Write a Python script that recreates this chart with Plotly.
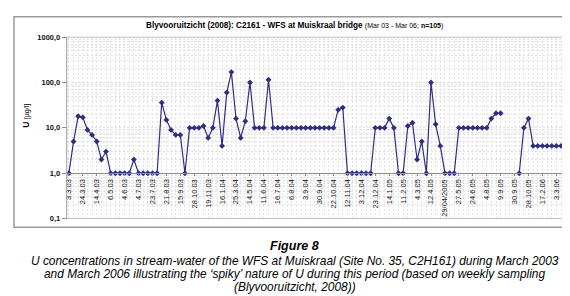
import plotly.graph_objects as go

# ---- data ----
u_values = [
    1, 5, 18, 17, 9, 7, 5, 2, 3, 1,
    1, 1, 1, 1, 2, 1, 1, 1, 1, 1,
    36, 15, 9, 7, 7, 1, 10, 10, 10, 11,
    6, 10, 40, 4, 60, 170, 16, 6, 14, 100,
    10, 10, 10, 115, 10, 10, 10, 10, 10, 10,
    10, 10, 10, 10, 10, 10, 10, 10, 25, 28,
    1, 1, 1, 1, 1, 1, 10, 10, 10, 16,
    10, 1, 1, 11, 13, 2, 5, 1, 100, 12,
    4, 1, 1, 1, 10, 10, 10, 10, 10, 10,
    10, 16, 21, 21, None, None, None, 1, 10, 16,
    4, 4, 4, 4, 4, 4, 4, 4,
]
tick_labels = [
    "3.3.03", "24.3.03", "14.4.03", "6.5.03", "4.6.03", "4.7.03", "23.7.03",
    "21.8.03", "15.9.03", "28.10.03", "19.11.03", "16.1.04", "25.3.04",
    "14.5.04", "11.6.04", "16.7.04", "6.8.04", "3.9.04", "30.9.04",
    "22.10.04", "12.11.04", "3.12.04", "23.12.04", "14.1.05", "11.2.05",
    "4.3.05", "12.4.05", "29/04/2005", "27.5.05", "24.6.05", "4.8.05",
    "9.9.05", "30.9.05", "28.10.05", "17.2.06", "3.3.06",
]
label_step = 3
y_tickvals = [0.1, 1, 10, 100, 1000]
y_ticktext = ["0,1", "1,0", "10,0", "100,0", "1000,0"]

W, H = 570, 296
def px(x):
    return x / W
def py(y):
    return 1 - y / H

n = len(u_values)
xs = list(range(n))

# plot area in pixels
L, R, T, B = 57, 559, 26, 213
ydom = [py(B), py(T)]
y1_paper = ydom[0] + 0.25 * (ydom[1] - ydom[0])  # position of value 1 on log axis [-1, 3]

navy = "#2E2E82"
gridc = "#E2E2E2"
axc = "#8C8C8C"
font = "Liberation Sans, Arial, sans-serif"

fig = go.Figure()
fig.add_trace(go.Scatter(
    x=xs, y=u_values, mode="lines+markers",
    line=dict(color=navy, width=1.2),
    marker=dict(symbol="diamond", size=4.5, color=navy),
    connectgaps=False, showlegend=False, hoverinfo="skip",
))

minor_y = [m * 10 ** e for e in range(-1, 3) for m in range(2, 10)]

cap_size = 11.9

fig.update_layout(
    width=W, height=H,
    margin=dict(l=0, r=0, t=0, b=0),
    paper_bgcolor="white", plot_bgcolor="white",
    font=dict(family=font, color="black"),
    xaxis=dict(
        domain=[px(L), px(R)], anchor="free", position=y1_paper,
        range=[-0.45, n - 1 + 0.3],
        tickmode="array",
        tickvals=[i * label_step for i in range(len(tick_labels))],
        ticktext=tick_labels, tickangle=-90,
        tickfont=dict(size=7.5, family=font, color="#111"),
        showline=True, linecolor=axc, linewidth=1,
        ticks="outside", ticklen=2, tickcolor=axc,
        showgrid=True, gridcolor=gridc, griddash="2px,2px", gridwidth=1,
        minor=dict(tickmode="array", tickvals=xs, showgrid=True,
                   gridcolor=gridc, griddash="2px,2px", gridwidth=1, ticks=""),
        zeroline=False, fixedrange=True,
    ),
    yaxis=dict(
        domain=ydom, type="log", range=[-1, 3],
        tickmode="array", tickvals=y_tickvals, ticktext=y_ticktext,
        tickfont=dict(size=7.5, family=font, color="#111", weight="bold"),
        showline=True, linecolor=axc, linewidth=1,
        ticks="outside", ticklen=4, tickcolor=axc,
        showgrid=True, gridcolor=gridc, griddash="2px,2px", gridwidth=1,
        minor=dict(tickmode="array", tickvals=minor_y, showgrid=True,
                   gridcolor=gridc, griddash="2px,2px", gridwidth=1, ticks=""),
        zeroline=False, fixedrange=True,
    ),
    shapes=[
        dict(type="rect", xref="paper", yref="paper",
             x0=px(4), x1=px(564), y0=py(222), y1=py(5),
             line=dict(color="#9A9A9A", width=1.5), layer="below"),
        dict(type="rect", xref="paper", yref="paper",
             x0=px(L), x1=px(R), y0=py(B), y1=py(T),
             line=dict(color="#C0C0C0", width=1), layer="above"),
    ],
    annotations=[
        dict(xref="paper", yref="paper", x=px(285), y=py(14),
             xanchor="center", yanchor="middle", showarrow=False,
             text="<b>Blyvooruitzicht (2008): C2161 - WFS at Muiskraal bridge</b> "
                  "<span style='font-size:7px'>(Mar 03 - Mar 06; <b>n=105</b>)</span>",
             font=dict(size=8.2, family=font, color="black")),
        dict(xref="paper", yref="paper", x=px(16), y=py(107),
             xanchor="center", yanchor="middle", showarrow=False, textangle=-90,
             text="<b>U</b> <span style='font-size:7px'>[µg/l]</span>",
             font=dict(size=8.5, family=font, color="black")),
        dict(xref="paper", yref="paper", x=px(285), y=py(241.5),
             xanchor="center", yanchor="middle", showarrow=False,
             text="<b><i>Figure 8</i></b>",
             font=dict(size=12.5, family=font, color="black")),
        dict(xref="paper", yref="paper", x=px(286), y=py(257),
             xanchor="center", yanchor="middle", showarrow=False,
             text="<i>U concentrations in stream-water of the WFS at Muiskraal (Site No. 35, C2H161) during March 2003</i>",
             font=dict(size=cap_size, family=font, color="black")),
        dict(xref="paper", yref="paper", x=px(286), y=py(270.5),
             xanchor="center", yanchor="middle", showarrow=False,
             text="<i>and March 2006 illustrating the \u2018spiky\u2019 nature of U during this period (based on weekly sampling</i>",
             font=dict(size=cap_size, family=font, color="black")),
        dict(xref="paper", yref="paper", x=px(286), y=py(284),
             xanchor="center", yanchor="middle", showarrow=False,
             text="<i>(Blyvooruitzicht, 2008))</i>",
             font=dict(size=cap_size, family=font, color="black")),
    ],
)

fig.write_html("out.html")
